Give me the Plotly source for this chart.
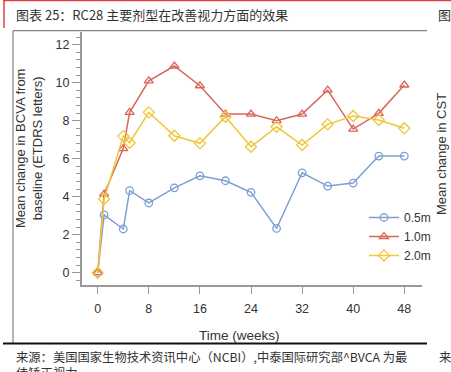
import plotly.graph_objects as go

W, H = 451, 372

weeks = [0, 1, 4, 5, 8, 12, 16, 20, 24, 28, 32, 36, 40, 44, 48]
dose_05 = [0, 3.04, 2.30, 4.32, 3.67, 4.47, 5.10, 4.84, 4.23, 2.33, 5.26, 4.56, 4.72, 6.14, 6.14]
dose_10 = [0, 4.14, 6.53, 8.44, 10.10, 10.88, 9.84, 8.35, 8.35, 8.00, 8.35, 9.61, 7.56, 8.39, 9.88]
dose_20 = [0, 3.88, 7.19, 6.84, 8.44, 7.21, 6.81, 8.21, 6.63, 7.68, 6.72, 7.81, 8.25, 8.04, 7.60]
series_names = ["0.5m", "1.0m", "2.0m"]
x_ticks = [0, 8, 16, 24, 32, 40, 48]
y_ticks = [0, 2, 4, 6, 8, 10, 12]

colors = ["#7d9fd6", "#d9665c", "#efc73a"]
symbols = ["circle-open", "triangle-up-open", "diamond-open"]
sizes = [7.5, 8, 8.5]

def px(x):
    return x / W

def py(y):
    return 1 - y / H

fig = go.Figure()
for vals, name, c, s, sz in zip([dose_05, dose_10, dose_20], series_names, colors, symbols, sizes):
    fig.add_trace(go.Scatter(
        x=weeks, y=vals, name=name, mode="lines+markers",
        line=dict(color=c, width=1.5),
        marker=dict(symbol=s, size=sz, color=c, line=dict(width=1.3, color=c)),
    ))

font_lat = "Arial, Liberation Sans, sans-serif"
font_cjk = "Noto Sans CJK SC, sans-serif"

fig.update_layout(
    width=W, height=H, autosize=False,
    margin=dict(l=0, r=0, t=0, b=0),
    paper_bgcolor="white", plot_bgcolor="white",
    font=dict(family=font_lat, size=12, color="#333333"),
    showlegend=True,
    legend=dict(x=px(364), y=py(203), xanchor="left", yanchor="top",
                bgcolor="rgba(0,0,0,0)", font=dict(size=12, color="#333333"),
                tracegroupgap=0, itemwidth=30),
    xaxis=dict(domain=[px(81.7), px(421.7)], range=[-2.505, 50.72],
               tickvals=x_ticks, ticks="outside", ticklen=7, tickwidth=1.2,
               tickcolor="#999999", showline=True, linecolor="#999999", linewidth=1.5,
               showgrid=False, zeroline=False, tickfont=dict(size=12.5, color="#333333"),
               ticklabelstandoff=4),
    yaxis=dict(domain=[py(285), py(32)], range=[-0.647, 12.67],
               tickvals=y_ticks, ticks="outside", ticklen=8, tickwidth=1.2,
               tickcolor="#999999", showline=True, linecolor="#999999", linewidth=1.5,
               showgrid=False, zeroline=False, tickfont=dict(size=12.5, color="#333333"),
               minor=dict(dtick=0.4, tick0=0, ticks="outside", ticklen=4, tickcolor="#999999",
                          tickwidth=1, showgrid=False)),
)

annotations = [
    dict(text="图表 25：RC28 主要剂型在改善视力方面的效果", x=px(14), y=py(15),
         xanchor="left", yanchor="middle", font=dict(family=font_cjk, size=13, color="#333333")),
    dict(text="图表", x=px(436), y=py(15), xanchor="left", yanchor="middle",
         font=dict(family=font_cjk, size=13, color="#333333")),
    dict(text="Mean change in BCVA from<br>baseline (ETDRS letters)", x=px(29), y=py(149),
         xanchor="center", yanchor="middle", textangle=-90,
         font=dict(family=font_lat, size=13, color="#333333")),
    dict(text="Time (weeks)", x=px(240), y=py(335), xanchor="center", yanchor="middle",
         font=dict(family=font_lat, size=13.5, color="#333333")),
    dict(text="Mean change in CST", x=px(441), y=py(154), xanchor="center", yanchor="middle",
         textangle=-90, font=dict(family=font_lat, size=13, color="#333333")),
    dict(text="来源：美国国家生物技术资讯中心（NCBI）,中泰国际研究部^BVCA 为最<br>佳矫正视力",
         x=px(14), y=py(346), xanchor="left", yanchor="top", align="left",
         font=dict(family=font_cjk, size=12.3, color="#333333")),
    dict(text="来源", x=px(437), y=py(346), xanchor="left", yanchor="top",
         font=dict(family=font_cjk, size=12.3, color="#333333")),
]
for a in annotations:
    a.update(xref="paper", yref="paper", showarrow=False)
    fig.add_annotation(**a)

shapes = [
    # red header accents
    dict(type="line", x0=px(3), x1=px(451), y0=py(0.5), y1=py(0.5), line=dict(color="#e04040", width=1.5)),
    dict(type="line", x0=px(4), x1=px(4), y0=py(0), y1=py(28), line=dict(color="#e04040", width=1.5)),
    # panel border
    dict(type="line", x0=px(13), x1=px(427), y0=py(30.7), y1=py(30.7), line=dict(color="#666666", width=1)),
    dict(type="line", x0=px(13), x1=px(13), y0=py(30.7), y1=py(343), line=dict(color="#666666", width=1)),
    dict(type="line", x0=px(3), x1=px(427), y0=py(343.5), y1=py(343.5), line=dict(color="#111111", width=2)),
]
for s in shapes:
    s.update(xref="paper", yref="paper")
    fig.add_shape(**s)

fig.write_html(
    "out.html",
    config={"displayModeBar": False},
    post_script="document.body.style.margin='0';document.body.style.overflow='hidden';",
)
